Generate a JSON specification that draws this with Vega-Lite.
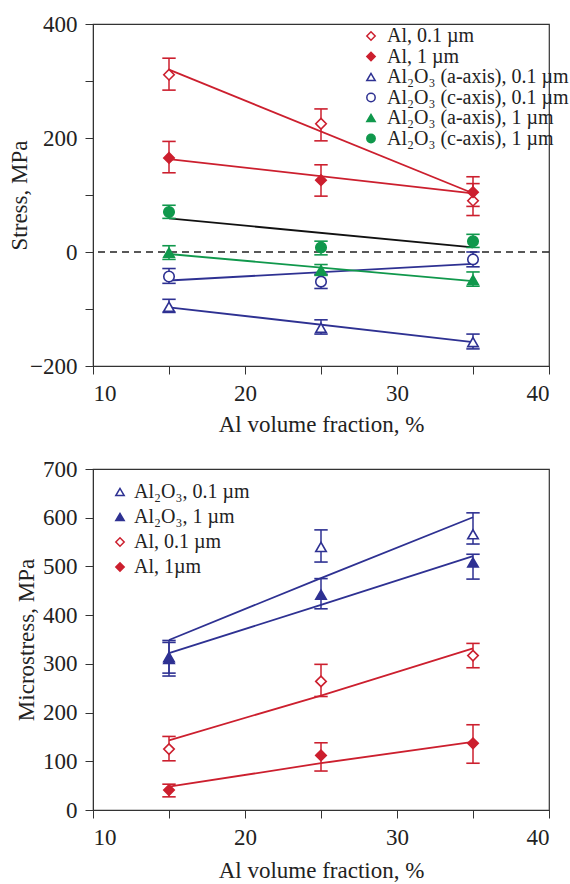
{
  "$schema": "https://vega.github.io/schema/vega-lite/v6.json",
  "background": "white",
  "padding": {"left": 7, "top": 12, "right": 5, "bottom": 0},
  "spacing": 20,
  "config": {
    "view": {"stroke": "#333", "strokeWidth": 1.2},
    "font": "Liberation Serif",
    "axis": {
      "labelFont": "Liberation Serif", "labelFontSize": 23, "labelColor": "#222",
      "titleFont": "Liberation Serif", "titleFontSize": 23, "titleFontWeight": "normal", "titleColor": "#222",
      "tickColor": "#333", "domainColor": "#333", "tickSize": 8, "labelPadding": 8, "grid": false
    },
    "legend": {"labelFont": "Liberation Serif", "labelFontSize": 20, "labelColor": "#222", "labelLimit": 400}
  },
  "datasets": {
    "topPts": [
      {"x": 15, "s": "Al, 0.1 µm", "y": 311, "lo": 284, "hi": 340},
      {"x": 25, "s": "Al, 0.1 µm", "y": 225, "lo": 195, "hi": 251},
      {"x": 35, "s": "Al, 0.1 µm", "y": 90, "lo": 64, "hi": 120},
      {"x": 15, "s": "Al, 1 µm", "y": 165, "lo": 139, "hi": 194},
      {"x": 25, "s": "Al, 1 µm", "y": 126, "lo": 98, "hi": 153},
      {"x": 35, "s": "Al, 1 µm", "y": 105, "lo": 80, "hi": 132},
      {"x": 15, "s": "Al₂O₃ (a-axis), 0.1 µm", "y": -96, "lo": -106, "hi": -83},
      {"x": 25, "s": "Al₂O₃ (a-axis), 0.1 µm", "y": -133, "lo": -144, "hi": -119},
      {"x": 35, "s": "Al₂O₃ (a-axis), 0.1 µm", "y": -158, "lo": -170, "hi": -144},
      {"x": 15, "s": "Al₂O₃ (c-axis), 0.1 µm", "y": -43, "lo": -55, "hi": -29},
      {"x": 25, "s": "Al₂O₃ (c-axis), 0.1 µm", "y": -52, "lo": -64, "hi": -39},
      {"x": 35, "s": "Al₂O₃ (c-axis), 0.1 µm", "y": -13, "lo": -26, "hi": 0},
      {"x": 15, "s": "Al₂O₃ (a-axis), 1 µm", "y": -1, "lo": -13, "hi": 11},
      {"x": 25, "s": "Al₂O₃ (a-axis), 1 µm", "y": -32, "lo": -41, "hi": -22},
      {"x": 35, "s": "Al₂O₃ (a-axis), 1 µm", "y": -49, "lo": -60, "hi": -35},
      {"x": 15, "s": "Al₂O₃ (c-axis), 1 µm", "y": 70, "lo": 59, "hi": 82},
      {"x": 25, "s": "Al₂O₃ (c-axis), 1 µm", "y": 8, "lo": -5, "hi": 19},
      {"x": 35, "s": "Al₂O₃ (c-axis), 1 µm", "y": 19, "lo": 8, "hi": 31}
    ],
    "topFit": [
      {"x": 15, "s": "Al, 0.1 µm", "y": 320},
      {"x": 35, "s": "Al, 0.1 µm", "y": 103},
      {"x": 15, "s": "Al, 1 µm", "y": 163},
      {"x": 35, "s": "Al, 1 µm", "y": 103},
      {"x": 15, "s": "Al₂O₃ (a-axis), 0.1 µm", "y": -97},
      {"x": 35, "s": "Al₂O₃ (a-axis), 0.1 µm", "y": -158},
      {"x": 15, "s": "Al₂O₃ (c-axis), 0.1 µm", "y": -50},
      {"x": 35, "s": "Al₂O₃ (c-axis), 0.1 µm", "y": -21},
      {"x": 15, "s": "Al₂O₃ (a-axis), 1 µm", "y": -3.5},
      {"x": 35, "s": "Al₂O₃ (a-axis), 1 µm", "y": -51},
      {"x": 15, "s": "Al₂O₃ (c-axis), 1 µm", "y": 59},
      {"x": 35, "s": "Al₂O₃ (c-axis), 1 µm", "y": 8}
    ],
    "botPts": [
      {"x": 15, "s": "Al₂O₃, 0.1 µm", "y": 314, "lo": 281, "hi": 348},
      {"x": 25, "s": "Al₂O₃, 0.1 µm", "y": 540, "lo": 509, "hi": 575},
      {"x": 35, "s": "Al₂O₃, 0.1 µm", "y": 566, "lo": 546, "hi": 610},
      {"x": 15, "s": "Al₂O₃, 1 µm", "y": 310, "lo": 275, "hi": 344},
      {"x": 25, "s": "Al₂O₃, 1 µm", "y": 442, "lo": 413, "hi": 475},
      {"x": 35, "s": "Al₂O₃, 1 µm", "y": 508, "lo": 474, "hi": 525},
      {"x": 15, "s": "Al, 0.1 µm", "y": 125, "lo": 101, "hi": 151},
      {"x": 25, "s": "Al, 0.1 µm", "y": 264, "lo": 233, "hi": 299},
      {"x": 35, "s": "Al, 0.1 µm", "y": 317, "lo": 292, "hi": 342},
      {"x": 15, "s": "Al, 1µm", "y": 41, "lo": 27, "hi": 53},
      {"x": 25, "s": "Al, 1µm", "y": 112, "lo": 80, "hi": 138},
      {"x": 35, "s": "Al, 1µm", "y": 137, "lo": 96, "hi": 175}
    ],
    "botFit": [
      {"x": 15, "s": "Al₂O₃, 0.1 µm", "y": 349},
      {"x": 25, "s": "Al₂O₃, 0.1 µm", "y": 476},
      {"x": 35, "s": "Al₂O₃, 0.1 µm", "y": 601},
      {"x": 15, "s": "Al₂O₃, 1 µm", "y": 322},
      {"x": 25, "s": "Al₂O₃, 1 µm", "y": 421},
      {"x": 35, "s": "Al₂O₃, 1 µm", "y": 521},
      {"x": 15, "s": "Al, 0.1 µm", "y": 143},
      {"x": 25, "s": "Al, 0.1 µm", "y": 235},
      {"x": 35, "s": "Al, 0.1 µm", "y": 332},
      {"x": 15, "s": "Al, 1µm", "y": 48},
      {"x": 25, "s": "Al, 1µm", "y": 96},
      {"x": 35, "s": "Al, 1µm", "y": 140}
    ],
    "zero": [{"y": 0}]
  },
  "resolve": {
    "scale": {"color": "independent", "fill": "independent", "shape": "independent", "stroke": "independent"},
    "legend": {"color": "independent", "fill": "independent", "shape": "independent", "stroke": "independent"}
  },
  "vconcat": [
    {
      "width": 456,
      "height": 342,
      "encoding": {
        "x": {"field": "x", "type": "quantitative",
          "scale": {"domain": [10, 40], "nice": false, "zero": false},
          "axis": {"title": "Al volume fraction, %", "values": [10, 15, 20, 25, 30, 35, 40], "labelExpr": "datum.value % 10 === 0 ? datum.label : ''", "titlePadding": 8}}
      },
      "layer": [
        {
          "data": {"name": "zero"},
          "mark": {"type": "rule", "color": "#222", "strokeDash": [7, 5], "strokeWidth": 1.3},
          "encoding": {"x": null, "y": {"field": "y", "type": "quantitative",
              "scale": {"domain": [-200, 400], "nice": false, "zero": false},
              "axis": {"title": "Stress, MPa", "values": [-200, -100, 0, 100, 200, 300, 400], "labelExpr": "datum.value % 200 === 0 ? datum.label : ''", "titleX": -62}}}
        },
        {
          "data": {"name": "topFit"},
          "mark": {"type": "line", "strokeWidth": 1.8},
          "encoding": {
            "y": {"field": "y", "type": "quantitative"},
            "detail": {"field": "s"},
            "stroke": {"field": "s", "type": "nominal", "legend": null,
              "scale": {"domain": ["Al₂O₃ (c-axis), 1 µm", "Al₂O₃ (a-axis), 1 µm", "Al₂O₃ (c-axis), 0.1 µm", "Al₂O₃ (a-axis), 0.1 µm", "Al, 1 µm", "Al, 0.1 µm"],
                "range": ["#111111", "#10984c", "#2e3192", "#2e3192", "#cc1f2e", "#cc1f2e"]}}
          }
        },
        {
          "data": {"name": "topPts"},
          "mark": {"type": "rule", "strokeWidth": 1.5, "opacity": 1},
          "encoding": {
            "y": {"field": "lo", "type": "quantitative"},
            "y2": {"field": "hi"},
            "color": {"field": "s", "type": "nominal",
              "legend": {"title": null, "orient": "none", "legendX": 268, "legendY": 2, "padding": 0, "rowPadding": 0.5, "symbolSize": 70, "symbolStrokeWidth": 1.5, "symbolOpacity": 1, "labelOffset": 6}}
          }
        },
        {
          "data": {"name": "topPts"},
          "mark": {"type": "tick", "orient": "horizontal", "size": 12, "thickness": 0.2, "filled": false, "strokeWidth": 1.4, "opacity": 1},
          "encoding": {
            "y": {"field": "lo", "type": "quantitative"},
            "color": {"field": "s", "type": "nominal",
              "legend": {"title": null, "orient": "none", "legendX": 268, "legendY": 2, "padding": 0, "rowPadding": 0.5, "symbolSize": 70, "symbolStrokeWidth": 1.5, "symbolOpacity": 1, "labelOffset": 6}}
          }
        },
        {
          "data": {"name": "topPts"},
          "mark": {"type": "tick", "orient": "horizontal", "size": 12, "thickness": 0.2, "filled": false, "strokeWidth": 1.4, "opacity": 1},
          "encoding": {
            "y": {"field": "hi", "type": "quantitative"},
            "color": {"field": "s", "type": "nominal",
              "legend": {"title": null, "orient": "none", "legendX": 268, "legendY": 2, "padding": 0, "rowPadding": 0.5, "symbolSize": 70, "symbolStrokeWidth": 1.5, "symbolOpacity": 1, "labelOffset": 6}}
          }
        },
        {
          "data": {"name": "topPts"},
          "mark": {"type": "point", "size": 110, "strokeWidth": 1.6, "opacity": 1},
          "encoding": {
            "y": {"field": "y", "type": "quantitative"},
            "color": {"field": "s", "type": "nominal",
              "scale": {"domain": ["Al, 0.1 µm", "Al, 1 µm", "Al₂O₃ (a-axis), 0.1 µm", "Al₂O₃ (c-axis), 0.1 µm", "Al₂O₃ (a-axis), 1 µm", "Al₂O₃ (c-axis), 1 µm"],
                "range": ["#cc1f2e", "#cc1f2e", "#2e3192", "#2e3192", "#10984c", "#10984c"]},
              "legend": {"title": null, "orient": "none", "legendX": 268, "legendY": 2, "padding": 0, "rowPadding": 0.5, "symbolSize": 70, "symbolStrokeWidth": 1.5, "symbolOpacity": 1, "labelOffset": 6}},
            "fill": {"field": "s", "type": "nominal",
              "scale": {"domain": ["Al, 0.1 µm", "Al, 1 µm", "Al₂O₃ (a-axis), 0.1 µm", "Al₂O₃ (c-axis), 0.1 µm", "Al₂O₃ (a-axis), 1 µm", "Al₂O₃ (c-axis), 1 µm"],
                "range": ["white", "#cc1f2e", "white", "white", "#10984c", "#10984c"]},
              "legend": {"title": null, "orient": "none", "legendX": 268, "legendY": 2, "padding": 0, "rowPadding": 0.5, "symbolSize": 70, "symbolStrokeWidth": 1.5, "symbolOpacity": 1, "labelOffset": 6}},
            "shape": {"field": "s", "type": "nominal",
              "scale": {"domain": ["Al, 0.1 µm", "Al, 1 µm", "Al₂O₃ (a-axis), 0.1 µm", "Al₂O₃ (c-axis), 0.1 µm", "Al₂O₃ (a-axis), 1 µm", "Al₂O₃ (c-axis), 1 µm"],
                "range": ["diamond", "diamond", "triangle-up", "circle", "triangle-up", "circle"]},
              "legend": {"title": null, "orient": "none", "legendX": 268, "legendY": 2, "padding": 0, "rowPadding": 0.5, "symbolSize": 70, "symbolStrokeWidth": 1.5, "symbolOpacity": 1, "labelOffset": 6}}
          }
        }
      ]
    },
    {
      "width": 456,
      "height": 341,
      "encoding": {
        "x": {"field": "x", "type": "quantitative",
          "scale": {"domain": [10, 40], "nice": false, "zero": false},
          "axis": {"title": "Al volume fraction, %", "values": [10, 15, 20, 25, 30, 35, 40], "labelExpr": "datum.value % 10 === 0 ? datum.label : ''", "titlePadding": 10}}
      },
      "layer": [
        {
          "data": {"name": "botFit"},
          "mark": {"type": "line", "strokeWidth": 1.8},
          "encoding": {
            "y": {"field": "y", "type": "quantitative",
              "scale": {"domain": [0, 700], "nice": false},
              "axis": {"title": "Microstress, MPa", "values": [0, 50, 100, 150, 200, 250, 300, 350, 400, 450, 500, 550, 600, 650, 700], "labelExpr": "datum.value % 100 === 0 ? datum.label : ''", "titleX": -55}},
            "detail": {"field": "s"},
            "stroke": {"field": "s", "type": "nominal", "legend": null,
              "scale": {"domain": ["Al, 1µm", "Al, 0.1 µm", "Al₂O₃, 1 µm", "Al₂O₃, 0.1 µm"],
                "range": ["#cc1f2e", "#cc1f2e", "#2e3192", "#2e3192"]}}
          }
        },
        {
          "data": {"name": "botPts"},
          "mark": {"type": "rule", "strokeWidth": 1.5, "opacity": 1},
          "encoding": {
            "y": {"field": "lo", "type": "quantitative"},
            "y2": {"field": "hi"},
            "color": {"field": "s", "type": "nominal",
              "legend": {"title": null, "orient": "none", "legendX": 17, "legendY": 13, "padding": 0, "rowPadding": 5, "symbolSize": 70, "symbolStrokeWidth": 1.5, "symbolOpacity": 1, "labelOffset": 4}}
          }
        },
        {
          "data": {"name": "botPts"},
          "mark": {"type": "tick", "orient": "horizontal", "size": 12, "thickness": 0.2, "filled": false, "strokeWidth": 1.4, "opacity": 1},
          "encoding": {
            "y": {"field": "lo", "type": "quantitative"},
            "color": {"field": "s", "type": "nominal",
              "legend": {"title": null, "orient": "none", "legendX": 17, "legendY": 13, "padding": 0, "rowPadding": 5, "symbolSize": 70, "symbolStrokeWidth": 1.5, "symbolOpacity": 1, "labelOffset": 4}}
          }
        },
        {
          "data": {"name": "botPts"},
          "mark": {"type": "tick", "orient": "horizontal", "size": 12, "thickness": 0.2, "filled": false, "strokeWidth": 1.4, "opacity": 1},
          "encoding": {
            "y": {"field": "hi", "type": "quantitative"},
            "color": {"field": "s", "type": "nominal",
              "legend": {"title": null, "orient": "none", "legendX": 17, "legendY": 13, "padding": 0, "rowPadding": 5, "symbolSize": 70, "symbolStrokeWidth": 1.5, "symbolOpacity": 1, "labelOffset": 4}}
          }
        },
        {
          "data": {"name": "botPts"},
          "mark": {"type": "point", "size": 110, "strokeWidth": 1.6, "opacity": 1},
          "encoding": {
            "y": {"field": "y", "type": "quantitative"},
            "color": {"field": "s", "type": "nominal",
              "scale": {"domain": ["Al₂O₃, 0.1 µm", "Al₂O₃, 1 µm", "Al, 0.1 µm", "Al, 1µm"],
                "range": ["#2e3192", "#2e3192", "#cc1f2e", "#cc1f2e"]},
              "legend": {"title": null, "orient": "none", "legendX": 17, "legendY": 13, "padding": 0, "rowPadding": 5, "symbolSize": 70, "symbolStrokeWidth": 1.5, "symbolOpacity": 1, "labelOffset": 4}},
            "fill": {"field": "s", "type": "nominal",
              "scale": {"domain": ["Al₂O₃, 0.1 µm", "Al₂O₃, 1 µm", "Al, 0.1 µm", "Al, 1µm"],
                "range": ["white", "#2e3192", "white", "#cc1f2e"]},
              "legend": {"title": null, "orient": "none", "legendX": 17, "legendY": 13, "padding": 0, "rowPadding": 5, "symbolSize": 70, "symbolStrokeWidth": 1.5, "symbolOpacity": 1, "labelOffset": 4}},
            "shape": {"field": "s", "type": "nominal",
              "scale": {"domain": ["Al₂O₃, 0.1 µm", "Al₂O₃, 1 µm", "Al, 0.1 µm", "Al, 1µm"],
                "range": ["triangle-up", "triangle-up", "diamond", "diamond"]},
              "legend": {"title": null, "orient": "none", "legendX": 17, "legendY": 13, "padding": 0, "rowPadding": 5, "symbolSize": 70, "symbolStrokeWidth": 1.5, "symbolOpacity": 1, "labelOffset": 4}}
          }
        }
      ]
    }
  ]
}
